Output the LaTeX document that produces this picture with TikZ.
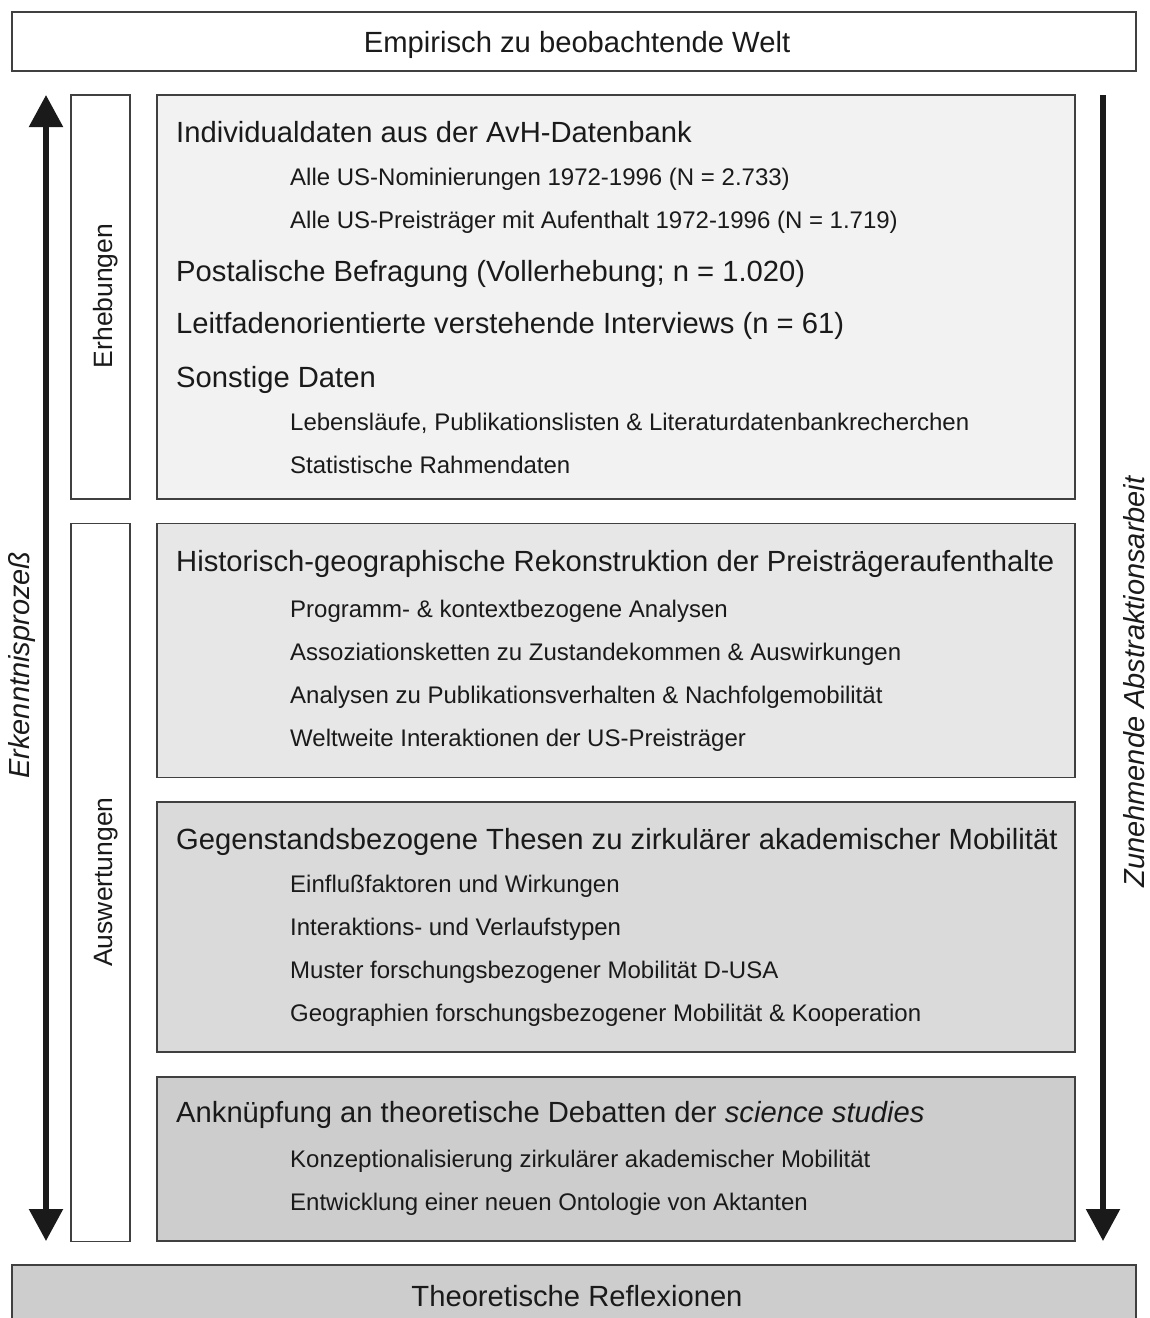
\documentclass[tikz,border=0pt]{standalone}
\usepackage{fontspec}
\setmainfont{Liberation Sans}
\usetikzlibrary{arrows.meta}

\definecolor{edge}{HTML}{404040}
\definecolor{ink}{HTML}{1A1A1A}
\definecolor{fillA}{HTML}{F2F2F2}
\definecolor{fillB}{HTML}{E7E7E7}
\definecolor{fillC}{HTML}{DADADA}
\definecolor{fillD}{HTML}{CDCDCD}

\tikzset{
  panel/.style={draw=edge, line width=1.8pt, inner sep=0pt, outer sep=0pt, anchor=north west},
  head/.style={anchor=base west, inner sep=0pt, text=ink, font=\fontsize{29.2}{34}\selectfont},
  item/.style={anchor=base west, inner sep=0pt, text=ink, font=\fontsize{24}{28}\selectfont},
  sidelabel/.style={anchor=base, inner sep=0pt, rotate=90, text=ink, font=\fontsize{26.5}{30}\selectfont},
  axislabel/.style={anchor=base, inner sep=0pt, rotate=90, text=ink, font=\fontsize{29}{34}\itshape\selectfont},
  bigarrow/.style={line width=5.5pt, draw=ink, -{Triangle[width=33pt,length=32pt]}}
}

\begin{document}
\begin{tikzpicture}[x=1pt,y=-1pt]
\useasboundingbox (0,0) rectangle (1150,1318);
\clip (0,0) rectangle (1150,1318);

% frame boxes top and bottom
\node[panel, fill=white, minimum width=1124pt, minimum height=59pt] (world) at (12,12) {};
\node[anchor=base, inner sep=0pt, text=ink, font=\fontsize{29.2}{34}\selectfont] (worldtxt) at (577,52) {Empirisch zu beobachtende Welt};

\node[panel, fill=fillD, minimum width=1124pt, minimum height=80pt] (theory) at (12,1265) {};
\node[anchor=base, inner sep=0pt, text=ink, font=\fontsize{29.2}{34}\selectfont] (theorytxt) at (577,1306) {Theoretische Reflexionen};

% side columns
\node[panel, fill=white, minimum width=59pt, minimum height=404pt] (erh) at (71,95) {};
\node[sidelabel] (erhtxt) at (112,296) {Erhebungen};
\node[panel, fill=white, minimum width=59pt, minimum height=718pt] (ausw) at (71,523.5) {};
\node[sidelabel] (auswtxt) at (112,882) {Auswertungen};

% content panels
\node[panel, fill=fillA, minimum width=918pt, minimum height=404pt] (p1) at (157,95) {};
\node[panel, fill=fillB, minimum width=918pt, minimum height=254pt] (p2) at (157,523.5) {};
\node[panel, fill=fillC, minimum width=918pt, minimum height=250pt] (p3) at (157,802) {};
\node[panel, fill=fillD, minimum width=918pt, minimum height=164pt] (p4) at (157,1077) {};

% panel 1
\node[head] (h1) at (176,142) {Individualdaten aus der AvH-Datenbank};
\node[item] (i11) at (290,185) {Alle US-Nominierungen 1972-1996 (N = 2.733)};
\node[item] (i12) at (290,228) {Alle US-Preisträger mit Aufenthalt 1972-1996 (N = 1.719)};
\node[head] (h12) at (176,281) {Postalische Befragung (Vollerhebung; n = 1.020)};
\node[head] (h13) at (176,333) {Leitfadenorientierte verstehende Interviews (n = 61)};
\node[head] (h14) at (176,387) {Sonstige Daten};
\node[item] (i13) at (290,430) {Lebensläufe, Publikationslisten \& Literaturdatenbankrecherchen};
\node[item] (i14) at (290,473) {Statistische Rahmendaten};

% panel 2
\node[head] (h2) at (176,571) {Historisch-geographische Rekonstruktion der Preisträgeraufenthalte};
\node[item] (i21) at (290,617) {Programm- \& kontextbezogene Analysen};
\node[item] (i22) at (290,660) {Assoziationsketten zu Zustandekommen \& Auswirkungen};
\node[item] (i23) at (290,703) {Analysen zu Publikationsverhalten \& Nachfolgemobilität};
\node[item] (i24) at (290,746) {Weltweite Interaktionen der US-Preisträger};

% panel 3
\node[head] (h3) at (176,849) {Gegenstandsbezogene Thesen zu zirkulärer akademischer Mobilität};
\node[item] (i31) at (290,892) {Einflußfaktoren und Wirkungen};
\node[item] (i32) at (290,935) {Interaktions- und Verlaufstypen};
\node[item] (i33) at (290,978) {Muster forschungsbezogener Mobilität D-USA};
\node[item] (i34) at (290,1021) {Geographien forschungsbezogener Mobilität \& Kooperation};

% panel 4
\node[head] (h4) at (176,1122) {Anknüpfung an theoretische Debatten der \textit{science studies}};
\node[item] (i41) at (290,1167) {Konzeptionalisierung zirkulärer akademischer Mobilität};
\node[item] (i42) at (290,1210) {Entwicklung einer neuen Ontologie von Aktanten};

% process arrows
\coordinate (lmid) at (46,670);
\coordinate (ltop) at (46,95);
\coordinate (lbot) at (46,1241);
\draw[bigarrow] (lmid) -- (ltop);
\draw[bigarrow] (lmid) -- (lbot);
\node[axislabel] (erk) at (30,665) {Erkenntnisprozeß};

\coordinate (rtop) at (1103,95);
\coordinate (rbot) at (1103,1241);
\draw[bigarrow] (rtop) -- (rbot);
\node[axislabel] (abs) at (1144,682) {Zunehmende Abstraktionsarbeit};
\end{tikzpicture}
\end{document}
